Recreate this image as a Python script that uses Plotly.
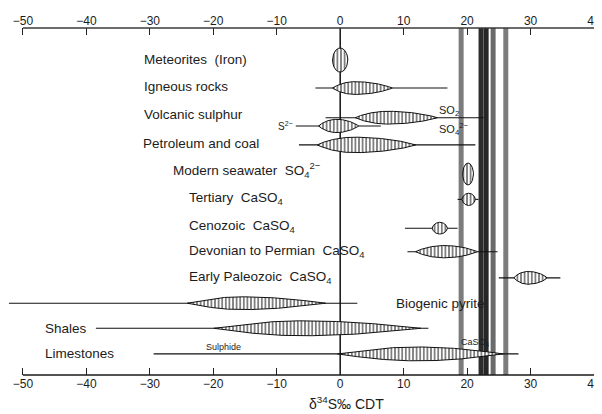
import numpy as np
import plotly.graph_objects as go

# ---------------- data ----------------
row_names = ["Meteorites (Iron)", "Igneous rocks", "Volcanic SO2", "Volcanic S2-",
             "Petroleum and coal", "Modern seawater", "Tertiary CaSO4", "Cenozoic CaSO4",
             "Devonian to Permian CaSO4", "Early Paleozoic CaSO4", "Biogenic pyrite",
             "Shales", "Limestones"]
row_pos = [1.20, 2.25, 3.36, 3.67, 4.38, 5.47, 6.42, 7.50, 8.38, 9.36, 10.31, 11.25, 12.21]
range_min = [None, -3.9, -2.3, -7.0, -6.5, None, 18.5, 10.2, 10.6, 25.0, -52.2, -38.5, -29.4]
range_max = [None, 16.9, 22.6, 6.4, 21.3, None, 21.8, 18.5, 24.8, 34.7, 2.7, 13.9, 28.1]
lens_min = [-1.2, -1.2, 2.4, -3.4, -3.6, 19.3, 19.2, 14.5, 11.9, 27.4, -24.1, -19.9, -0.4]
lens_max = [1.2, 8.2, 15.3, 2.9, 11.9, 21.0, 21.3, 16.9, 21.6, 32.6, -2.3, 12.7, 25.7]
lens_peak = [0.0, 2.3, 7.5, -0.6, 2.2, 20.15, 20.25, 15.7, 16.4, 29.6, -15.6, -6.0, 12.2]
lens_thick = [0.45, 0.24, 0.24, 0.25, 0.29, 0.41, 0.23, 0.22, 0.23, 0.24, 0.24, 0.28, 0.26]
lens_form = [0.5, 0.9, 0.9, 0.9, 0.9, 0.5, 0.6, 0.6, 0.9, 0.8, 1.1, 1.1, 1.1]

seawater_lines = [19.06, 22.2, 23.0, 24.1, 26.1]
seawater_line_colors = ["#7c7c7c", "#2c2c2c", "#262626", "#6a6a6a", "#7c7c7c"]

tick_vals = [-50, -40, -30, -20, -10, 0, 10, 20, 30, 40]

label_text = ["Meteorites  (Iron)", "Igneous rocks", "Volcanic sulphur", "Petroleum and coal",
              "Modern seawater  SO<sub>4</sub><sup>2−</sup>", "Tertiary  CaSO<sub>4</sub>",
              "Cenozoic  CaSO<sub>4</sub>", "Devonian to Permian  CaSO<sub>4</sub>",
              "Early Paleozoic  CaSO<sub>4</sub>", "Shales", "Limestones", "Biogenic pyrite"]
label_x = [-31.3, -31.3, -31.3, -31.4, -26.6, -24.2, -24.2, -24.2, -24.2, -46.9, -46.9, 8.5]
label_y = [1.17, 2.20, 3.25, 4.32, 5.33, 6.38, 7.42, 8.36, 9.33, 11.25, 12.20, 10.31]

small_text = ["SO<sub>2</sub>", "SO<sub>4</sub><sup>2−</sup>", "S<sup>2−</sup>", "Sulphide", "CaSO<sub>4</sub>"]
small_x = [15.2, 15.2, -7.2, -21.5, 18.8]
small_y = [3.12, 3.78, 3.67, 11.96, 11.80]
small_anchor = ["left", "left", "right", "left", "left"]
small_size = [11, 11, 10, 9, 9]

# ---------------- figure ----------------
fig = go.Figure()

Y0, Y1 = 13.0, 0.0

for xv, col in zip(seawater_lines, seawater_line_colors):
    fig.add_trace(go.Scatter(x=[xv, xv], y=[Y0, Y1], mode="lines",
                             line=dict(color=col, width=5), hoverinfo="skip", showlegend=False))

fig.add_trace(go.Scatter(x=[0, 0], y=[Y0, Y1], mode="lines",
                         line=dict(color="black", width=1.4), hoverinfo="skip", showlegend=False))


def lens_outline(x0, x1, xp, h, k, n=80):
    xl = np.linspace(x0, xp, n)
    xr = np.linspace(xp, x1, n)[1:]
    tl = (xl - xp) / (xp - x0)
    tr = (xr - xp) / (x1 - xp)
    xs = np.concatenate([xl, xr])
    t = np.concatenate([tl, tr])
    hh = h * np.clip(1 - t ** 2, 0, None) ** k
    return xs, hh


for i, nm in enumerate(row_names):
    y = row_pos[i]
    if range_min[i] is not None:
        fig.add_trace(go.Scatter(x=[range_min[i], range_max[i]], y=[y, y], mode="lines",
                                 line=dict(color="#111111", width=1.1),
                                 hoverinfo="skip", showlegend=False))
    xs, hh = lens_outline(lens_min[i], lens_max[i], lens_peak[i], lens_thick[i], lens_form[i])
    px = np.concatenate([xs, xs[::-1], xs[:1]])
    py = np.concatenate([y - hh, (y + hh)[::-1], [y - hh[0]]])
    fig.add_trace(go.Scatter(x=px, y=py, mode="lines", fill="toself",
                             fillcolor="white",
                             fillpattern=dict(shape="|", size=3.6, solidity=0.5,
                                              fgcolor="#000000", bgcolor="white"),
                             line=dict(color="#111111", width=1),
                             name=nm, hoverinfo="name", showlegend=False))

# invisible trace for top axis
fig.add_trace(go.Scatter(x=[-50, 40], y=[Y0, Y0], xaxis="x2", mode="markers",
                         marker=dict(opacity=0), hoverinfo="skip", showlegend=False))

annotations = []
for t, x, y in zip(label_text, label_x, label_y):
    annotations.append(dict(x=x, y=y, xref="x", yref="y", text=t, showarrow=False,
                            xanchor="left", yanchor="middle",
                            font=dict(family="Liberation Sans, Arial", size=13.5, color="#1c1c1c")))
for t, x, y, a, s in zip(small_text, small_x, small_y, small_anchor, small_size):
    annotations.append(dict(x=x, y=y, xref="x", yref="y", text=t, showarrow=False,
                            xanchor=a, yanchor="middle",
                            font=dict(family="Liberation Sans, Arial", size=s, color="#1c1c1c")))
annotations.append(dict(x=1.0, y=-0.08, xref="x", yref="paper",
                        text="δ<sup>34</sup>S‰ CDT", showarrow=False,
                        xanchor="center", yanchor="middle",
                        font=dict(family="Liberation Sans, Arial", size=14, color="#1c1c1c")))

shapes = [
    dict(type="line", xref="x", yref="paper", x0=-50, x1=40, y0=1, y1=1,
         line=dict(color="#3a3a3a", width=1.6)),
    dict(type="line", xref="x", yref="paper", x0=-50, x1=40, y0=0, y1=0,
         line=dict(color="#1a1a1a", width=1.4)),
]

axis_common = dict(range=[-52.35, 40], tickvals=tick_vals,
                   ticktext=[f"{v}" if v >= 0 else f"−{-v}" for v in tick_vals],
                   ticks="inside", ticklen=7, tickwidth=1.3, tickcolor="#222222",
                   showgrid=False, zeroline=False, showline=False, automargin=False,
                   tickfont=dict(family="Liberation Sans, Arial", size=12, color="#1c1c1c"))

# page body has an 8px margin, so the figure is sized to the visible 594x406 area
fig.update_layout(
    width=594, height=406,
    margin=dict(l=0, r=8, t=20, b=39),
    paper_bgcolor="white", plot_bgcolor="white",
    xaxis=dict(**axis_common, side="bottom"),
    xaxis2=dict(**axis_common, side="top", overlaying="x", matches="x", anchor="y"),
    yaxis=dict(range=[Y0, Y1], visible=False, showgrid=False, zeroline=False, automargin=False),
    annotations=annotations,
    shapes=shapes,
    showlegend=False,
)

fig.write_html("out.html")
